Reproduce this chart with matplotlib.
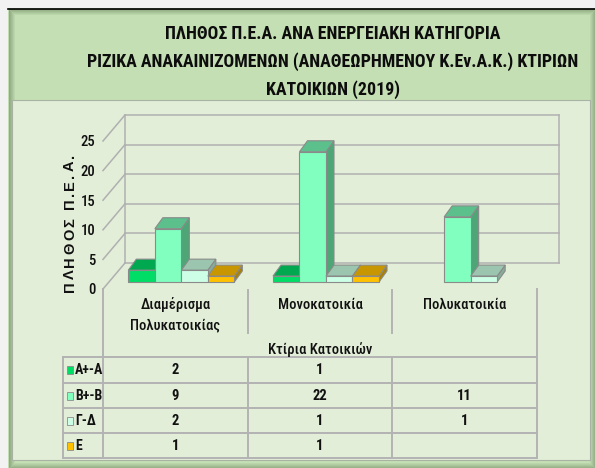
import matplotlib
matplotlib.use('Agg')
import matplotlib.pyplot as plt
from matplotlib.patches import Rectangle, Polygon
from matplotlib.lines import Line2D
from matplotlib import transforms as mtransforms
from matplotlib import font_manager

# ---------------- data ----------------
categories = ["Διαμέρισμα\nΠολυκατοικίας", "Μονοκατοικία", "Πολυκατοικία"]
series_names = ["Α+-Α", "Β+-Β", "Γ-Δ", "Ε"]
vals_A = [2, 1, None]
vals_B = [9, 22, 11]
vals_G = [2, 1, 1]
vals_E = [1, 1, None]
series_values = [vals_A, vals_B, vals_G, vals_E]
y_ticks = [0, 5, 10, 15, 20, 25]
title_lines = ["ΠΛΗΘΟΣ Π.Ε.Α. ΑΝΑ ΕΝΕΡΓΕΙΑΚΗ ΚΑΤΗΓΟΡΙΑ",
               "ΡΙΖΙΚΑ ΑΝΑΚΑΙΝΙΖΟΜΕΝΩΝ (ΑΝΑΘΕΩΡΗΜΕΝΟΥ Κ.Εν.Α.Κ.) ΚΤΙΡΙΩΝ",
               "ΚΑΤΟΙΚΙΩΝ (2019)"]
y_label = "ΠΛΗΘΟΣ Π.Ε.Α."
x_title = "Κτίρια Κατοικιών"

# styles
front_cols = ['#00dd66', '#80ffbf', '#ccffe6', '#ffc000']
top_cols = ['#00a84f', '#5cc08c', '#9bc5ae', '#c89600']
side_cols = ['#009644', '#4ea676', '#87ad99', '#a98000']
edge_col = '#8a8a8a'
grid_col = '#b0b0b0'

names = {f.name for f in font_manager.fontManager.ttflist}
NARROW = 'Roboto Condensed' if 'Roboto Condensed' in names else 'DejaVu Sans'
SANS = 'Liberation Sans'

W, H = 595, 468
fig = plt.figure(figsize=(W / 100, H / 100), dpi=100)
fig.patch.set_facecolor('#f2f2f2')


def FX(px):
    return px / W


def FY(py):
    return 1 - py / H


def frect(x0, y0, x1, y1, **kw):
    r = Rectangle((FX(x0), FY(y1)), FX(x1) - FX(x0), FY(y0) - FY(y1),
                  transform=fig.transFigure, **kw)
    fig.add_artist(r)
    return r


# ---- background panels ----
frect(8, 8, 600, 472, facecolor='#c5dfb4', edgecolor='none', zorder=-3)
for k in range(6):
    a = 0.34 * (1 - k / 6)
    frect(8 + k + 0.5, 8 + k + 0.5, 595 - k - 0.5, 468 - k - 0.5, facecolor='none',
          edgecolor='#2f4a25', alpha=a, lw=0.75, zorder=-2.9)
fig.add_artist(Line2D([FX(8), FX(595)], [FY(8.5), FY(8.5)], transform=fig.transFigure,
                      color='black', lw=1.2, zorder=-2.8))
frect(12, 100, 590, 460, facecolor='#e2eed8', edgecolor='#a9b3a3', lw=0.8, zorder=-2.7)

r = fig.canvas.get_renderer()


def text_w(s, size, fam, weight):
    t = fig.text(0, 0, s, fontsize=size, family=fam, weight=weight)
    w = t.get_window_extent(r).width
    t.remove()
    return w


# ---- title ----
tsize = 13 * 491 / text_w(title_lines[1], 13, NARROW, 'bold')
for k, line in enumerate(title_lines):
    fig.text(FX(333), FY(34 + 28 * k), line, ha='center', va='center', fontsize=tsize,
             family=NARROW, weight='bold', color='#0d0d0d')

# ---- axes (front plane) ----
ax = fig.add_axes([FX(103), FY(289), (537 - 103) / W, (289 - 141) / H])
ax.set_zorder(1)
ax.set_xlim(-0.5, 2.5)
ax.set_ylim(0, 25)
ax.set_frame_on(False)
ax.patch.set_alpha(0)
ax.set_xticks([])
ax.set_yticks(y_ticks)
ax.set_yticklabels([str(t) for t in y_ticks], family=NARROW, fontsize=10.5, weight=500,
                   color='#111111')
ax.tick_params(axis='y', length=0, pad=5.5)

p0 = ax.transData.transform((0, 0))
p1 = ax.transData.transform((1, 1))
ppx, ppy = p1[0] - p0[0], p1[1] - p0[1]

# walls / gridlines (depth offset in pixels)
wdx, wdy = 22 / ppx, 26 / ppy
xl, xr = -0.5, 2.5
for v in y_ticks:
    ax.add_line(Line2D([xl + wdx, xr + wdx], [v + wdy, v + wdy], color=grid_col, lw=1.1,
                       clip_on=False, zorder=1))
    ax.add_line(Line2D([xl, xl + wdx], [v, v + wdy], color=grid_col, lw=1.1,
                       clip_on=False, zorder=1))
for xe in (xl, xr):
    ax.add_line(Line2D([xe + wdx, xe + wdx], [wdy, y_ticks[-1] + wdy], color=grid_col,
                       lw=1.1, clip_on=False, zorder=1))

# 3D bars
bw = 26.5 / ppx
fdx, fdy = 6 / ppx, 7 / ppy
ddx, ddy = 8 / ppx, 11 / ppy
z = 2
for j in range(len(categories)):
    for i, vals in enumerate(series_values):
        v = vals[j]
        if v is None:
            continue
        left = j - 2 * bw + i * bw + fdx
        b = fdy
        top = b + v
        side = Polygon([(left + bw, b), (left + bw + ddx, b + ddy), (left + bw + ddx, top + ddy),
                        (left + bw, top)], closed=True, facecolor=side_cols[i],
                       edgecolor=edge_col, lw=0.8, clip_on=False, zorder=z)
        topf = Polygon([(left, top), (left + bw, top), (left + bw + ddx, top + ddy),
                        (left + ddx, top + ddy)], closed=True, facecolor=top_cols[i],
                       edgecolor=edge_col, lw=0.8, clip_on=False, zorder=z)
        front = Rectangle((left, b), bw, v, facecolor=front_cols[i], edgecolor=edge_col,
                          lw=0.8, clip_on=False, zorder=z)
        ax.add_patch(side)
        ax.add_patch(topf)
        ax.add_patch(front)
        z += 0.01

# ---- y label with letter spacing ----
ysize = 10.5
bar_w = text_w('|', ysize, SANS, 'bold')
adv = [text_w(y_label[:k] + '|', ysize, SANS, 'bold') - bar_w for k in range(len(y_label) + 1)]
total = 138
sp = (total - adv[-1]) / (len(y_label) - 1)
y0 = 292
for k, ch in enumerate(y_label):
    pos = y0 - (adv[k] + k * sp)
    fig.text(FX(74), FY(pos), ch, rotation=90, rotation_mode='anchor', ha='left',
             va='baseline', fontsize=ysize, family=SANS, weight='bold', color='#111111')

# ---- data table ----
btf = mtransforms.blended_transform_factory(ax.transData, fig.transFigure)
lab_left = xl - 40 / ppx
row_y = [357, 383, 408, 433, 458]
tl = dict(color='#b3b3b3', lw=1.4, transform=btf, clip_on=False, zorder=1)
for yy in row_y:
    fig.add_artist(Line2D([lab_left, xr], [FY(yy), FY(yy)], **tl))
fig.add_artist(Line2D([lab_left, lab_left], [FY(357), FY(458)], **tl))
for xe in (xl, xr):
    fig.add_artist(Line2D([xe, xe], [FY(289), FY(458)], **tl))
for xe in (0.5, 1.5):
    fig.add_artist(Line2D([xe, xe], [FY(290), FY(333)], **tl))
    fig.add_artist(Line2D([xe, xe], [FY(357), FY(458)], **tl))

for j, cat in enumerate(categories):
    for k, line in enumerate(cat.split('\n')):
        fig.text(j, FY(305 + 20 * k), line, transform=btf, ha='center', va='center',
                 fontsize=10.5, family=NARROW, weight=500, color='#111111')
fig.text(1, FY(350), x_title, transform=btf, ha='center', va='center', fontsize=10.5,
         family=NARROW, weight=500, color='#111111')

for i, (name, vals) in enumerate(zip(series_names, series_values)):
    rc = (row_y[i] + row_y[i + 1]) / 2
    frect(66.5, rc - 4, 72.5, rc + 4, facecolor=front_cols[i], edgecolor='#8c8c8c', lw=0.6,
          zorder=2)
    fig.text(FX(75), FY(rc + 0.5), name, ha='left', va='center', fontsize=10, family=NARROW,
             weight='bold', color='#111111')
    for j, v in enumerate(vals):
        if v is None:
            continue
        fig.text(j, FY(rc + 0.5), str(v), transform=btf, ha='center', va='center',
                 fontsize=10.5, family=NARROW, weight='bold', color='#111111')

fig.savefig('out.png', dpi=100, facecolor=fig.get_facecolor())
